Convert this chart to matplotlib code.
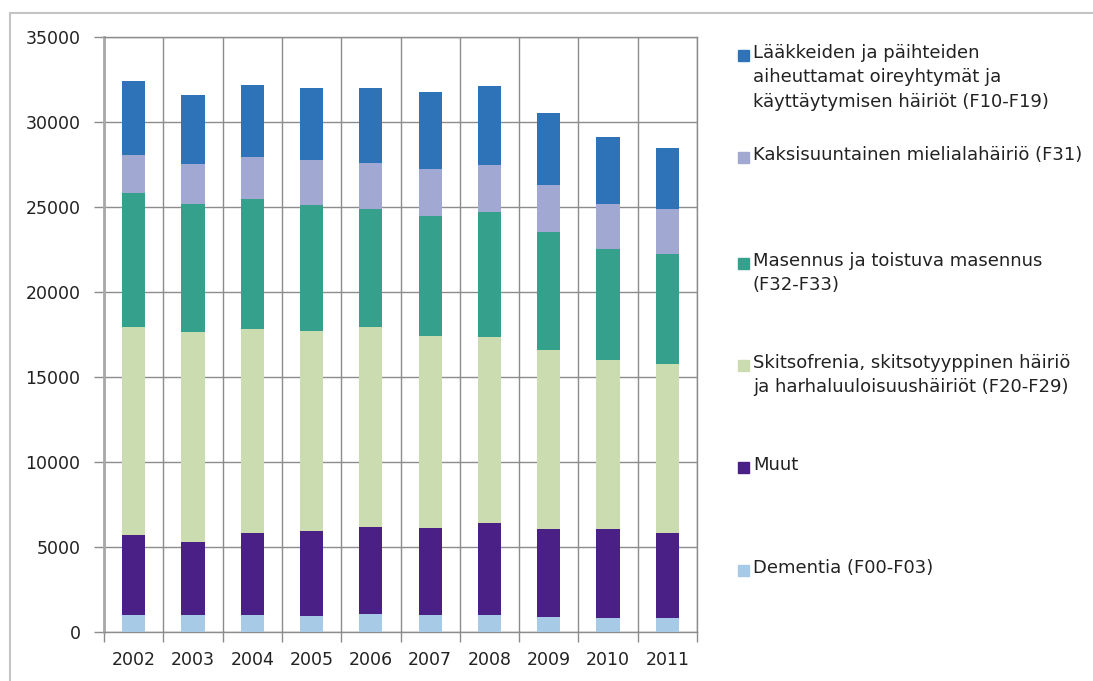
import matplotlib
matplotlib.use('Agg')
import matplotlib.pyplot as plt
from matplotlib.lines import Line2D
from matplotlib.patches import Rectangle
import numpy as np

years = ['2002', '2003', '2004', '2005', '2006', '2007', '2008', '2009', '2010', '2011']

# stacked from bottom to top
dementia = [1000, 1000, 1000, 950, 1050, 1000, 1000, 900, 850, 800]
muut = [4700, 4300, 4850, 5000, 5100, 5100, 5400, 5150, 5200, 5000]
skitsofrenia = [12250, 12350, 12000, 11750, 11800, 11300, 10950, 10550, 9950, 9950]
masennus = [7900, 7550, 7600, 7400, 6950, 7050, 7350, 6950, 6550, 6500]
kaksisuuntainen = [2200, 2350, 2500, 2650, 2700, 2800, 2800, 2750, 2650, 2650]
laakkeiden = [4350, 4050, 4200, 4250, 4400, 4500, 4600, 4250, 3900, 3600]

series = [dementia, muut, skitsofrenia, masennus, kaksisuuntainen, laakkeiden]
labels = ['Dementia (F00-F03)',
          'Muut',
          'Skitsofrenia, skitsotyyppinen häiriö\nja harhaluuloisuushäiriöt (F20-F29)',
          'Masennus ja toistuva masennus\n(F32-F33)',
          'Kaksisuuntainen mielialahäiriö (F31)',
          'Lääkkeiden ja päihteiden\naiheuttamat oireyhtymät ja\nkäyttäytymisen häiriöt (F10-F19)']
colors = ['#a7cbe6', '#4a2087', '#cadcb0', '#35a08b', '#a1a8d1', '#2e72b8']

yticks = [0, 5000, 10000, 15000, 20000, 25000, 30000, 35000]

W, H = 1093, 681
fig = plt.figure(figsize=(W / 100, H / 100), dpi=100)
ax = fig.add_axes([104 / W, (H - 632) / H, (697 - 104) / W, (632 - 37) / H])

x = np.arange(len(years))
bottom = np.zeros(len(years))
for vals, col in zip(series, colors):
    ax.bar(x, vals, width=0.39, bottom=bottom, color=col, zorder=3)
    bottom += np.array(vals)

gridc = '#8c8c8c'
ax.set_xlim(-0.5, len(years) - 0.5)
ax.set_ylim(0, 35000)
ax.set_yticks(yticks)
ax.set_yticklabels([str(v) for v in yticks])
ax.set_xticks(x)
ax.set_xticklabels(years)
ax.set_xticks(np.arange(-0.5, len(years)), minor=True)
ax.tick_params(axis='x', which='major', length=0, pad=14, labelsize=12.5, colors='#222222')
ax.tick_params(axis='x', which='minor', length=7, color=gridc, width=1)
ax.tick_params(axis='y', length=7, width=1, pad=10, labelsize=12.5, colors=gridc,
               labelcolor='#222222')
ax.grid(axis='y', color=gridc, linewidth=1, zorder=0)
ax.grid(axis='x', which='minor', color=gridc, linewidth=1, zorder=0)
for s in ax.spines.values():
    s.set_color(gridc)
    s.set_linewidth(1)
ax.spines['left'].set_color('#a8a8a8')
ax.spines['left'].set_linewidth(2)

# legend, drawn by hand to follow the uneven spacing of the original
leg_y = [570, 467, 365, 263, 157, 55]
for lab, col, yy in zip(labels, colors, leg_y):
    fig.patches.append(Rectangle((738 / W, 1 - (yy + 6) / H), 11 / W, 11 / H,
                                 transform=fig.transFigure, color=col))
    fig.text(753 / W, 1 - (yy - 11) / H, lab, fontsize=13, va='top', ha='left',
             color='#222222', linespacing=1.45)

# outer chart frame (top and left edges visible)
fig.add_artist(Line2D([10 / W, 1], [1 - 13 / H, 1 - 13 / H], transform=fig.transFigure,
                      color='#c4c4c4', linewidth=1.5))
fig.add_artist(Line2D([10 / W, 10 / W], [0, 1 - 13 / H], transform=fig.transFigure,
                      color='#c4c4c4', linewidth=1.5))

fig.savefig('out.png', dpi=100)
